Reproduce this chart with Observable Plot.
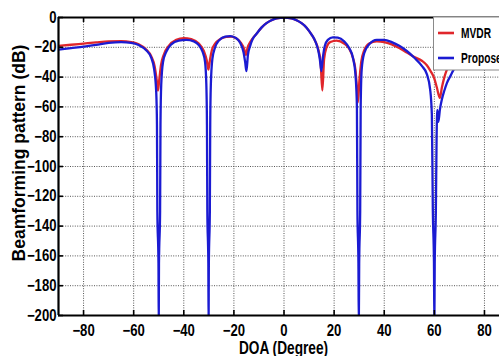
<!DOCTYPE html>
<html><head><meta charset="utf-8">
<script src="https://cdn.jsdelivr.net/npm/d3@7"></script>
<script src="https://cdn.jsdelivr.net/npm/@observablehq/plot@0.6"></script>
<style>
html,body{margin:0;padding:0;background:#fff;}
#chart{position:relative;width:499px;height:356px;overflow:hidden;}
</style></head><body><div id="chart"></div>
<script>
// ---- data ----
const xTicks = [-80, -60, -40, -20, 0, 20, 40, 60, 80];
const yTicks = [0, -20, -40, -60, -80, -100, -120, -140, -160, -180, -200];
const seriesNames = ["MVDR", "Proposed"];
const seriesColors = ["#e0262b", "#1b1bd2"];
const xLabel = "DOA (Degree)";
const yLabel = "Beamforming pattern (dB)";

// [DOA (deg), pattern (dB)]
const mvdr = [[-90,-19],[-85,-18.3],[-80,-17.5],[-75,-16.7],[-70,-16],[-65,-15.8],[-61,-16.5],[-58,-18],[-55,-21.5],[-53,-26],[-51.6,-33],[-50.8,-42],[-50.3,-49],[-49.8,-42],[-49.1,-32],[-48,-25],[-46,-19],[-43,-15],[-40,-13.8],[-37,-14.5],[-34,-17.5],[-32,-22.5],[-30.8,-29],[-30.2,-35],[-29.6,-29],[-28.8,-22],[-27.5,-17.5],[-25.5,-14.5],[-23,-13],[-21,-12.8],[-19,-14],[-17.2,-17],[-15.9,-21],[-15.2,-25],[-14.5,-20],[-13.5,-16.5],[-12.5,-14],[-11,-11],[-9,-6.8],[-7,-3.8],[-5,-1.8],[-3,-0.6],[0,0],[3,-0.6],[5,-1.8],[7,-3.8],[9,-6.8],[11,-11.5],[12.5,-16],[13.6,-21],[14.6,-30],[15.3,-49],[16,-28],[17,-20],[18.5,-16.5],[21,-15.5],[24,-17.5],[26,-21],[27.5,-27],[28.5,-35],[29.1,-47],[29.5,-57],[30.1,-42],[30.8,-30],[32,-22],[34,-17.5],[37,-16],[40,-16.5],[43,-18],[46,-20.5],[49,-23.5],[52,-26.5],[55,-29],[57,-32],[58.5,-36],[60,-41],[61,-47],[62.2,-54],[63,-47],[64,-40],[65,-35],[67,-28],[70,-23],[75,-19],[80,-17.5],[86,-17]];

const proposed = [[-90,-21.5],[-85,-20.5],[-80,-19.5],[-75,-18.3],[-70,-17],[-65,-16.5],[-61,-17],[-58,-18.5],[-55,-22],[-53,-27],[-51.8,-35],[-51,-50],[-50.7,-72],[-50.55,-130],[-50.1,-165],[-50,-206],[-49.9,-165],[-49.45,-130],[-49.3,-72],[-49,-45],[-48.3,-30],[-47,-23],[-45,-18],[-42,-15.5],[-39,-15],[-36,-16],[-34,-18.5],[-32.5,-23],[-31.5,-30],[-31,-45],[-30.75,-72],[-30.6,-130],[-30.2,-165],[-30.1,-206],[-30,-165],[-29.6,-130],[-29.45,-72],[-29.2,-45],[-28.6,-28],[-27.5,-20],[-26,-15.5],[-23.5,-12.8],[-21.5,-12.5],[-19.5,-13.5],[-17.5,-17],[-16.2,-23],[-15.5,-30],[-15,-36],[-14.4,-25],[-13.5,-19],[-12.5,-14.5],[-11,-11],[-9,-6.8],[-7,-3.8],[-5,-1.8],[-3,-0.6],[0,0],[3,-0.6],[5,-1.8],[7,-3.8],[9,-6.8],[11,-11.5],[12.5,-16],[13.5,-21],[14.3,-28],[14.9,-36],[15.5,-27],[16.3,-19],[17.5,-15],[19.5,-13.3],[21.5,-13.5],[24,-16],[26,-20.5],[27.5,-27],[28.5,-38],[29.1,-60],[29.3,-130],[29.7,-165],[29.85,-206],[30,-165],[30.4,-130],[30.6,-60],[31,-35],[32,-24],[34,-18],[37,-15],[40,-15],[43,-16.5],[46,-19],[49,-22.5],[52,-27],[55,-32.5],[57,-38],[58.3,-48],[59,-65],[59.4,-130],[59.85,-165],[60,-206],[60.15,-165],[60.6,-130],[60.9,-80],[61.2,-62],[61.6,-70],[62.2,-62],[63,-55],[64,-49],[65,-44],[66.5,-39],[68,-34],[70,-28],[75,-22],[80,-19.5],[86,-18.5]];

// ---- layout ----
const W = 499, H = 356;
const mL = 58, mR = 0, mT = 17, mB = 41;
const plotW = W - mL - mR, plotH = H - mT - mB;
const FONT = "'Liberation Sans', Arial, Helvetica, sans-serif";

const rows = [
  ...mvdr.map(([doa, db]) => ({doa, db, s: seriesNames[0]})),
  ...proposed.map(([doa, db]) => ({doa, db, s: seriesNames[1]}))
];

const gridStyle = {stroke: "#444", strokeOpacity: 0.9, strokeWidth: 1, strokeDasharray: "1,1.4"};

const chart = Plot.plot({
  width: W, height: H,
  marginLeft: mL, marginRight: mR, marginTop: mT, marginBottom: mB,
  style: {background: "#fff", fontFamily: FONT, fontWeight: "bold", fontSize: "16px", color: "#000", overflow: "hidden"},
  x: {domain: [-90, 86], ticks: xTicks, label: null},
  y: {domain: [-200, 0], ticks: yTicks, label: null},
  color: {domain: seriesNames, range: seriesColors},
  marks: [
    Plot.gridX(xTicks, gridStyle),
    Plot.gridY(yTicks.slice(1, -1), gridStyle),
    Plot.line(rows, {x: "doa", y: "db", z: "s", stroke: "s", strokeWidth: 2.3, curve: "monotone-x", clip: true}),
    Plot.ruleX(xTicks, {insetBottom: plotH - 5, stroke: "#000", strokeWidth: 1.6}),
    Plot.ruleX(xTicks, {insetTop: plotH - 5, stroke: "#000", strokeWidth: 1.6}),
    Plot.ruleY(yTicks, {insetRight: plotW - 5, stroke: "#000", strokeWidth: 1.6}),
    Plot.ruleY([yTicks[0], yTicks[yTicks.length - 1]], {stroke: "#000", strokeWidth: 2.2}),
    Plot.ruleX([-90], {stroke: "#000", strokeWidth: 2.2}),
    Plot.axisX(xTicks, {anchor: "bottom", tickSize: 0, tickPadding: 9, fontSize: 16, fontWeight: "bold", label: null}),
    Plot.axisY(yTicks, {anchor: "left", tickSize: 0, tickPadding: 2, fontSize: 16, fontWeight: "bold", label: null})
  ]
});

// condense text horizontally about its own anchor (the reference type is narrow)
function condense(el, s) {
  const x = el.getAttribute("x");
  let t = el.getAttribute("transform") || "";
  let pre = "";
  if (x !== null && /^-?[\d.]+$/.test(x)) {
    pre = `translate(${x},0) `;
    el.removeAttribute("x");
  }
  el.setAttribute("transform", (pre + t + ` scale(${s},1)`).trim());
}
d3.select(chart).selectAll("text").each(function() { condense(this, 0.82); });

const svg = d3.select(chart);

// axis titles
const xt = svg.append("text")
  .attr("x", mL + (0 - (-90)) / 176 * plotW).attr("y", 354.5)
  .attr("text-anchor", "middle")
  .style("font", `bold 19px ${FONT}`).attr("fill", "#000").text(xLabel);
condense(xt.node(), 0.72);

svg.append("text")
  .attr("transform", `translate(25,${mT + plotH / 2 - 13}) rotate(-90)`)
  .attr("text-anchor", "middle")
  .style("font", `bold 17.5px ${FONT}`).attr("fill", "#000").text(yLabel);

// legend
const lg = svg.append("g").attr("text-anchor", "start");
lg.append("rect").attr("x", 433.5).attr("y", mT).attr("width", 80).attr("height", 53)
  .attr("fill", "#fff").attr("stroke", "#8a8a8a").attr("stroke-width", 1);
seriesNames.forEach((name, i) => {
  const cy = 33 + i * 25;
  lg.append("line").attr("x1", 438).attr("x2", 454).attr("y1", cy).attr("y2", cy)
    .attr("stroke", seriesColors[i]).attr("stroke-width", 2.6);
  const t = lg.append("text").attr("x", 461).attr("y", cy).attr("dy", "0.36em")
    .attr("text-anchor", "start")
    .style("font", `bold 15px ${FONT}`).attr("fill", "#000").text(name);
  condense(t.node(), 0.68);
});

document.getElementById("chart").appendChild(chart);
</script>
</body></html>
